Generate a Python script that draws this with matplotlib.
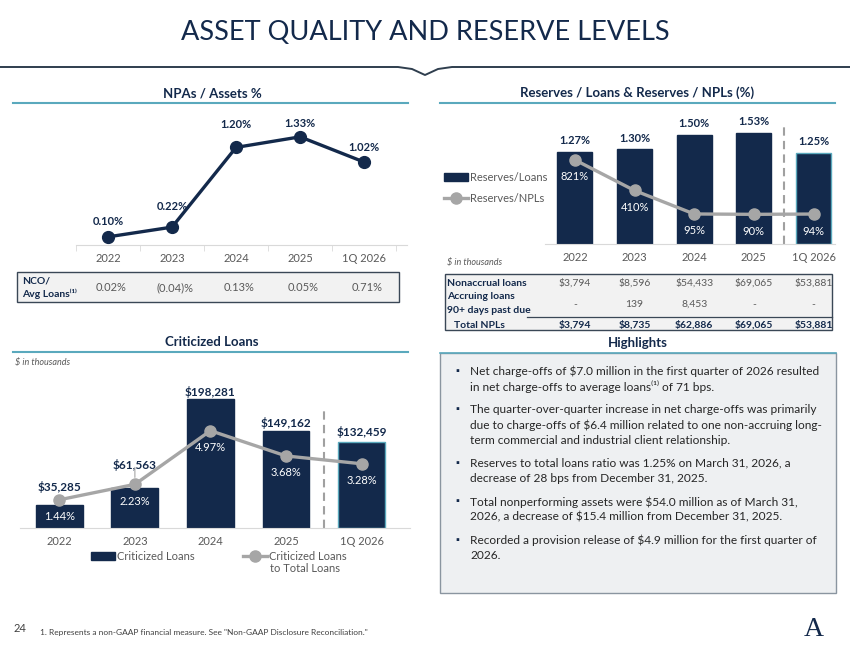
import matplotlib
matplotlib.use('Agg')
from matplotlib import pyplot as plt
from matplotlib import patches, lines
from matplotlib.transforms import blended_transform_factory

plt.rcParams['font.family'] = ['Lato', 'DejaVu Sans']
plt.rcParams['text.parse_math'] = False

# ---- data ----
periods = ['2022', '2023', '2024', '2025', '1Q 2026']

npa_assets = [0.10, 0.22, 1.20, 1.33, 1.02]
nco_avg_loans = ['0.02%', '(0.04)%', '0.13%', '0.05%', '0.71%']

reserves_loans = [1.27, 1.30, 1.50, 1.53, 1.25]
reserves_npls = [821, 410, 95, 90, 94]

nonaccrual = ['$3,794', '$8,596', '$54,433', '$69,065', '$53,881']
accruing_90 = ['-', '139', '8,453', '-', '-']
total_npls = ['$3,794', '$8,735', '$62,886', '$69,065', '$53,881']

criticized = [35285, 61563, 198281, 149162, 132459]
criticized_pct = [1.44, 2.23, 4.97, 3.68, 3.28]

highlights = [
    ['Net charge-offs of $7.0 million in the first quarter of 2026 resulted',
     'in net charge-offs to average loans\u207d\u00b9\u207e of 71 bps.'],
    ['The quarter-over-quarter increase in net charge-offs was primarily',
     'due to charge-offs of $6.4 million related to one non-accruing long-',
     'term commercial and industrial client relationship.'],
    ['Reserves to total loans ratio was 1.25% on March 31, 2026, a',
     'decrease of 28 bps from December 31, 2025.'],
    ['Total nonperforming assets were $54.0 million as of March 31,',
     '2026, a decrease of $15.4 million from December 31, 2025.'],
    ['Recorded a provision release of $4.9 million for the first quarter of',
     '2026.'],
]

navy = '#13294b'
grey_line = '#a6a6a6'
teal = '#5aa9bd'
txt_grey = '#595959'

W, H = 850, 657
fig = plt.figure(figsize=(8.5, 6.57), dpi=100)


def fx(x):
    return x / W


def fy(y):
    return 1 - y / H


def ax_at(x0, y0, x1, y1):
    return fig.add_axes([fx(x0), fy(y1), (x1 - x0) / W, (y1 - y0) / H])


def hline(x0, x1, y, color, lw):
    fig.add_artist(lines.Line2D([fx(x0), fx(x1)], [fy(y), fy(y)], color=color, lw=lw))


def box(x0, y0, x1, y1, fc, ec, lw=1.0):
    fig.add_artist(patches.Rectangle((fx(x0), fy(y1)), (x1 - x0) / W, (y1 - y0) / H,
                                     transform=fig.transFigure, fc=fc, ec=ec, lw=lw,
                                     zorder=-1))


def style_axis(ax):
    for s in ['top', 'left', 'right']:
        ax.spines[s].set_visible(False)
    ax.spines['bottom'].set_color('#d9d9d9')
    ax.set_yticks([])
    ax.set_xticks(range(len(periods)))
    ax.set_xticklabels(periods, fontsize=8, color=txt_grey)
    ax.tick_params(axis='x', length=0, pad=6)
    ax.patch.set_alpha(0)


# ---- title ----
fig.text(fx(425), fy(32), 'ASSET QUALITY AND RESERVE LEVELS', fontsize=19.5,
         color=navy, ha='center', va='center')
fig.add_artist(lines.Line2D([0, fx(398), fx(412), fx(425), fx(438), fx(452), 1],
                            [fy(67), fy(67), fy(69), fy(75), fy(69), fy(67), fy(67)],
                            color='#2f3e4e', lw=1.4))

# ---- NPAs / Assets ----
fig.text(fx(212), fy(93), 'NPAs / Assets %', fontsize=9.5, fontweight='bold',
         color=navy, ha='center', va='center')
hline(13, 408, 103, teal, 1.5)

ax1 = ax_at(76, 110, 407, 245)
style_axis(ax1)
ax1.set_xlim(-0.5, 4.67)
ax1.set_ylim(0, 1.66)
ax1.set_xticks([i - 0.5 for i in range(6)], minor=True)
ax1.tick_params(axis='x', which='minor', length=4, color='#d9d9d9')
ax1.plot(range(len(periods)), npa_assets, color=navy, lw=2.4, marker='o', ms=8.5,
         clip_on=False)
npa_off = [15, 21, 23, 13, 15]
for i, v in enumerate(npa_assets):
    ax1.annotate(f'{v:.2f}%', (i, v), xytext=(0, npa_off[i]), textcoords='offset pixels',
                 ha='center', va='center', fontsize=8, fontweight='bold', color=navy)

box(17, 272, 399, 302, '#f2f2f2', '#3a4756', 1.0)
fig.text(fx(22), fy(284), 'NCO/', fontsize=7.5, fontweight='bold', color=navy,
         va='baseline')
fig.text(fx(22), fy(297), 'Avg Loans\u207d\u00b9\u207e', fontsize=7.5, fontweight='bold',
         color=navy, va='baseline')
tr1 = blended_transform_factory(ax1.transData, fig.transFigure)
for i, s in enumerate(nco_avg_loans):
    ax1.text(i + 0.05, fy(291), s, transform=tr1, ha='center', va='baseline',
             fontsize=8, color=txt_grey)

# ---- Reserves / Loans & Reserves / NPLs ----
fig.text(fx(637), fy(93), 'Reserves / Loans & Reserves / NPLs (%)', fontsize=9.5,
         fontweight='bold', color=navy, ha='center', va='center')
hline(440, 835, 103, teal, 1.5)

ax2 = ax_at(545, 110, 835, 244)
style_axis(ax2)
ax2.set_xlim(-0.5, 4.36)
ax2.set_ylim(0, 1.84)
edges2 = [navy] * 4 + [teal]
b2 = ax2.bar(range(len(periods)), reserves_loans, width=0.59, color=navy,
             edgecolor=edges2, lw=1)
for i, v in enumerate(reserves_loans):
    ax2.annotate(f'{v:.2f}%', (i, v), xytext=(0, 11), textcoords='offset pixels',
                 ha='center', va='center', fontsize=8, fontweight='bold', color=navy)
ax2.plot([3.5, 3.5], [0, 1.63], ls='--', dashes=(4, 2.5), color='#a0a0a0', lw=1.5)

ax2b = ax2.twinx()
ax2b.set_ylim(-308, 1490)
ax2b.axis('off')
l2, = ax2b.plot(range(len(periods)), reserves_npls, color=grey_line, lw=2.4,
                marker='o', ms=8)
for i, v in enumerate(reserves_npls):
    ax2b.annotate(f'{v}%', (i, v), xytext=(0, -17), textcoords='offset pixels',
                  ha='center', va='center', fontsize=8, color='white', zorder=5)

fig.legend([b2, l2], ['Reserves/Loans', 'Reserves/NPLs'], loc='upper left',
           bbox_to_anchor=(fx(438), fy(166)), frameon=False, fontsize=8,
           handlelength=2.2, handletextpad=0.2, labelspacing=0.9,
           labelcolor=txt_grey, borderpad=0)

fig.text(fx(447), fy(262), '$ in thousands', fontsize=6.5, style='italic',
         color=txt_grey, va='center')

box(445, 274, 832, 330, '#f2f2f2', '#3a4756', 1.0)
hline(527, 832, 317, '#3a4756', 0.9)
row_labels = [('Nonaccrual loans', 447, 282), ('Accruing loans', 447, 295.5),
              ('90+ days past due', 447, 309.5), ('Total NPLs', 454, 324)]
for s, x, yy in row_labels:
    fig.text(fx(x), fy(yy + 3.7), s, fontsize=7.5, fontweight='bold', color=navy,
             va='baseline')
tr2 = blended_transform_factory(ax2.transData, fig.transFigure)
for i in range(len(periods)):
    ax2.text(i, fy(285.7), nonaccrual[i], transform=tr2, ha='center',
             va='baseline', fontsize=7.5, color=txt_grey)
    ax2.text(i, fy(306.7), accruing_90[i], transform=tr2, ha='center',
             va='baseline', fontsize=7.5, color=txt_grey)
    ax2.text(i, fy(327.7), total_npls[i], transform=tr2, ha='center',
             va='baseline', fontsize=7.5, fontweight='bold', color=navy)

# ---- Criticized Loans ----
fig.text(fx(212), fy(342), 'Criticized Loans', fontsize=9.5, fontweight='bold',
         color=navy, ha='center', va='center')
hline(13, 408, 352, teal, 1.5)
fig.text(fx(15), fy(362), '$ in thousands', fontsize=6.5, style='italic',
         color=txt_grey, va='center')

ax3 = ax_at(20, 370, 410, 528)
style_axis(ax3)
ax3.set_xlim(-0.52, 4.64)
ax3.set_ylim(0, 243500)
edges3 = [navy] * 4 + [teal]
b3 = ax3.bar(range(len(periods)), criticized, width=0.62, color=navy,
             edgecolor=edges3, lw=1)
ax3.plot([3.5, 3.5], [0, 181700], ls='--', dashes=(4, 2.5), color='#a0a0a0', lw=1.5)

ax3b = ax3.twinx()
ax3b.set_ylim(0, 8.07)
ax3b.axis('off')
l3, = ax3b.plot(range(len(periods)), criticized_pct, color=grey_line, lw=2.4,
                marker='o', ms=8)
for i, v in enumerate(criticized_pct):
    ax3b.annotate(f'{v:.2f}%', (i, v), xytext=(0, -17), textcoords='offset pixels',
                  ha='center', va='center', fontsize=8, color='white', zorder=5)

crit_off = [18, 23, 7, 8, 10]
for i, v in enumerate(criticized):
    ax3.annotate(f'${v:,}', (i, v), xytext=(0, crit_off[i]), textcoords='offset pixels',
                 ha='center', va='center', fontsize=8.5, fontweight='bold', color=navy,
                 zorder=6)
# small leader from the 2023 label down to its marker
ax3b.annotate('', (1, criticized_pct[1]), xytext=(0, 17), textcoords='offset pixels',
              arrowprops=dict(arrowstyle='-', color=grey_line, lw=0.8,
                              shrinkA=0, shrinkB=5))

fig.legend([b3, l3], ['Criticized Loans', 'Criticized Loans'],
           loc='upper left', bbox_to_anchor=(fx(85), fy(545)), frameon=False,
           fontsize=8, ncol=2, columnspacing=4.3, handlelength=2.2,
           handletextpad=0.2, labelcolor=txt_grey, borderpad=0)
fig.text(fx(270), fy(569), 'to Total Loans', fontsize=8, color=txt_grey, va='center')

# ---- Highlights ----
fig.text(fx(638), fy(343), 'Highlights', fontsize=9.5, fontweight='bold',
         color=navy, ha='center', va='center')
box(440, 353, 836, 593, '#eef0f2', '#8a95a0', 1.0)
hline(440, 836, 353, teal, 1.2)
y = 371
for para in highlights:
    fig.text(fx(457), fy(y), '\u25aa', fontsize=7, color=navy, ha='center', va='center')
    for ln in para:
        fig.text(fx(470), fy(y), ln, fontsize=8.6, color='#262626', va='center')
        y += 15.2
    y += 8.2

# ---- footer ----
fig.text(fx(14), fy(629), '24', fontsize=8, color='#404040', va='center')
fig.text(fx(40), fy(632), '1. Represents a non-GAAP financial measure. See "Non-GAAP Disclosure Reconciliation."',
         fontsize=6, color='#404040', va='center')
fig.text(fx(814), fy(630), 'A', fontsize=20, family='Liberation Serif', color=navy,
         ha='center', va='center')

fig.savefig('out.png', dpi=100)
